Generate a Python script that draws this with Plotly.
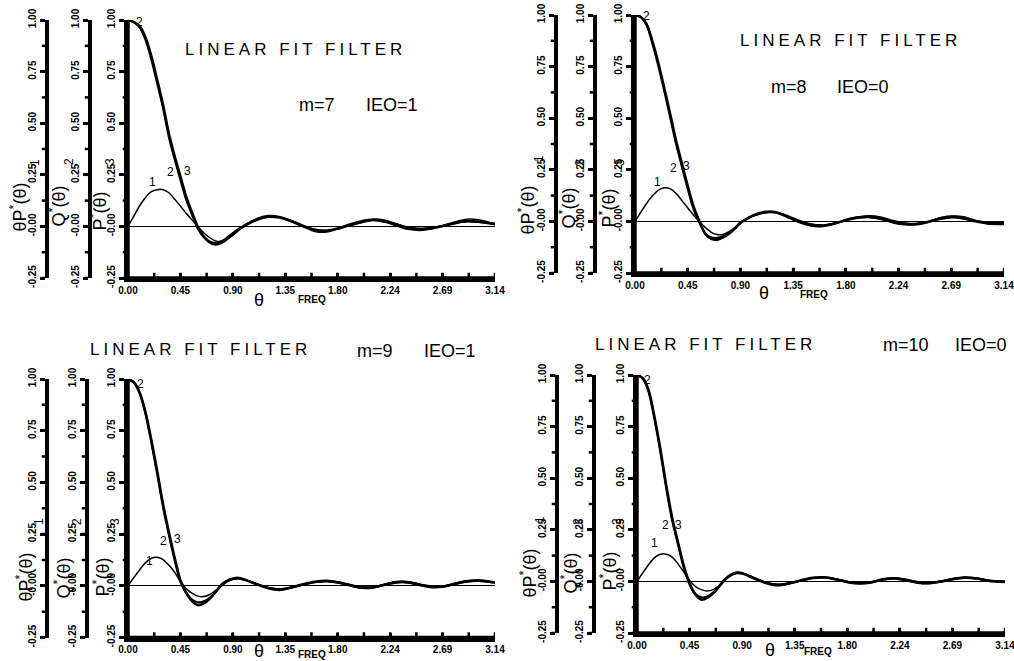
import plotly.graph_objects as go

W, H = 1014, 661

# ---------------- data ----------------
THETA = [0.0, 0.05, 0.1, 0.15, 0.2, 0.25, 0.3, 0.35, 0.4, 0.45, 0.5, 0.55, 0.6, 0.65,
         0.7, 0.75, 0.8, 0.85, 0.9, 0.95, 1.0, 1.1, 1.2, 1.3, 1.4, 1.5, 1.6, 1.7, 1.8,
         1.9, 2.0, 2.1, 2.2, 2.3, 2.4, 2.5, 2.6, 2.7, 2.8, 2.9, 3.0, 3.1416]

# m=7, IEO=1
TP_M7 = [0, .05, .1, .14, .168, .178, .178, .163, .132, .098, .062, .03, -.002, -.032, -.055,
         -.07, -.072, -.062, -.042, -.018, .002, .03, .047, .045, .028, .005, -.015, -.02,
         -.012, .005, .02, .035, .03, .012, -.005, -.01, -.005, .005, .022, .035, .032, .012]
Q_M7 = [1.0, .99, .965, .905, .81, .695, .575, .435, .325, .225, .128, .055, -.012, -.052,
        -.074, -.08, -.072, -.054, -.032, -.012, .004, .032, .046, .042, .024, .002, -.016,
        -.02, -.01, .006, .02, .03, .024, .01, -.006, -.012, -.008, .002, .015, .024, .022, .012]
P_M7 = [1.0, .99, .97, .915, .825, .71, .59, .45, .34, .24, .14, .065, -.005, -.05, -.078,
        -.088, -.08, -.06, -.035, -.013, .005, .035, .05, .045, .025, .0, -.022, -.025, -.01,
        .01, .025, .032, .022, .005, -.012, -.017, -.01, .003, .018, .026, .022, .01]

# m=8, IEO=0
TP_M8 = [0, .045, .088, .125, .152, .163, .158, .135, .1, .065, .03, -.002, -.03, -.053, -.064,
         -.063, -.05, -.03, -.008, .01, .025, .042, .044, .028, .005, -.012, -.017, -.01, .006,
         .02, .027, .02, .004, -.008, -.01, .0, .018, .026, .022, .005, -.005, -.003]
Q_M8 = [1.0, .99, .95, .86, .752, .632, .505, .377, .265, .157, .058, -.008, -.06, -.078, -.08,
        -.072, -.055, -.032, -.005, .012, .026, .043, .043, .022, -.002, -.017, -.02, -.01,
        .006, .017, .02, .012, -.003, -.012, -.012, -.002, .012, .02, .014, .002, -.008, -.01]
P_M8 = [1.0, .99, .955, .87, .765, .645, .52, .39, .28, .17, .07, .0, -.062, -.085, -.089,
        -.078, -.06, -.035, -.005, .012, .028, .046, .045, .022, -.003, -.02, -.022, -.01, .008,
        .02, .022, .012, -.005, -.014, -.014, -.002, .015, .022, .015, .0, -.01, -.012]

# m=9, IEO=1
TP_M9 = [0, .04, .078, .112, .133, .138, .127, .1, .065, .02, -.015, -.037, -.05, -.052, -.042,
         -.022, .0, .02, .032, .036, .03, .01, -.008, -.015, -.008, .006, .018, .022, .018, .006,
         -.004, -.004, .008, .02, .02, .008, -.002, .0, .012, .024, .028, .018]
Q_M9 = [1.0, .983, .93, .832, .694, .543, .383, .248, .124, .018, -.035, -.068, -.08, -.075,
        -.058, -.03, .002, .022, .033, .035, .028, .008, -.01, -.017, -.008, .006, .018, .022,
        .015, .003, -.008, -.007, .005, .016, .016, .005, -.005, -.003, .009, .02, .024, .015]
P_M9 = [1.0, .985, .935, .84, .705, .555, .395, .26, .135, .025, -.035, -.075, -.094, -.085,
        -.063, -.03, .005, .025, .036, .038, .03, .008, -.012, -.02, -.008, .008, .02, .024, .016,
        .002, -.01, -.008, .006, .018, .017, .004, -.007, -.004, .01, .022, .026, .016]

# m=10, IEO=0
TP_M10 = [0, .042, .082, .115, .132, .132, .118, .085, .045, .005, -.025, -.04, -.046, -.04,
          -.02, .008, .03, .04, .04, .03, .018, -.004, -.014, -.008, .006, .018, .02, .012, .0,
          -.006, -.002, .01, .016, .01, -.002, -.005, .003, .014, .02, .016, .006, .002]
Q_M10 = [1.0, .983, .918, .785, .628, .452, .298, .18, .066, -.015, -.062, -.078, -.074, -.055,
         -.025, .006, .028, .04, .038, .027, .015, -.006, -.016, -.009, .004, .016, .018, .01,
         -.003, -.008, -.004, .009, .014, .006, -.006, -.008, .0, .011, .017, .013, .003, -.002]
P_M10 = [1.0, .985, .925, .795, .64, .465, .31, .19, .075, -.01, -.065, -.089, -.08, -.058,
         -.025, .01, .032, .043, .04, .028, .015, -.008, -.019, -.01, .005, .018, .02, .01,
         -.004, -.01, -.005, .01, .015, .006, -.007, -.009, .0, .012, .019, .014, .003, -.003]

M_LABELS = ["m=7", "m=8", "m=9", "m=10"]
IEO_LABELS = ["IEO=1", "IEO=0", "IEO=1", "IEO=0"]
TITLE = "LINEAR FIT FILTER"

X_TICK_VALS = [0.0, 0.4488, 0.8976, 1.3464, 1.7952, 2.2440, 2.6928, 3.1416]
X_TICK_TEXT = ["<b>0.00</b>", "<b>0.45</b>", "<b>0.90</b>", "<b>1.35</b>", "<b>1.80</b>",
               "<b>2.24</b>", "<b>2.69</b>", "<b>3.14</b>"]
X_MINOR_VALS = [0.2244, 0.6732, 1.1220, 1.5708, 2.0196, 2.4684, 2.9172]
Y_TICK_VALS = [-0.25, 0.0, 0.25, 0.5, 0.75, 1.0]
Y_TICK_TEXT = ["<b>-0.25</b>", "<b>-0.00</b>", "<b>0.25</b>", "<b>0.50</b>", "<b>0.75</b>",
               "<b>1.00</b>"]
Y_MINOR_VALS = [-0.125, 0.125, 0.375, 0.625, 0.875]

SERIES = [(TP_M7, Q_M7, P_M7), (TP_M8, Q_M8, P_M8), (TP_M9, Q_M9, P_M9), (TP_M10, Q_M10, P_M10)]

# ---------------- layout geometry (pixels) ----------------
GEOM = [
    dict(x0=128, x1=495, yt=20, yb=278, extra=[47, 90],
         title=(295, 49), m=(317, 105), ieo=(392, 105),
         lab=[(33, 207), (72, 206), (112, 211)], sub=[(35, 163), (69, 162), (110, 162)],
         num=[(139, 22), (152, 182), (170, 172), (187, 171)], th=(259, 300), fr=(312, 299)),
    dict(x0=635, x1=1004, yt=15, yb=273, extra=[556, 595],
         title=(850, 40), m=(789, 87), ieo=(863, 87),
         lab=[(540, 210), (582, 208), (622, 208)], sub=[(539, 159), (580, 163), (620, 163)],
         num=[(646, 16), (657, 182), (673, 168), (686, 166)], th=(764, 293), fr=(814, 294)),
    dict(x0=128, x1=495, yt=379, yb=637.5, extra=[47, 87],
         title=(200, 349), m=(375, 351), ieo=(450, 351),
         lab=[(38, 577), (76, 578), (115, 577)], sub=[(39, 522), (77, 522), (115, 522)],
         num=[(140, 384), (149, 561), (163, 541), (177, 539)], th=(259, 651), fr=(312, 654)),
    dict(x0=637, x1=1005, yt=375, yb=633, extra=[557, 594],
         title=(705, 344), m=(906, 345), ieo=(981, 345),
         lab=[(542, 573), (583, 573), (622, 571)], sub=[(540, 520), (578, 522), (617, 522)],
         num=[(647, 380), (654, 543), (665, 525), (678, 525)], th=(770, 650), fr=(818, 651)),
]

FONT = "Liberation Sans"
TICKFONT = dict(family=FONT, size=10, color="black")
HALF = 7  # half width (px) of the thin strips that carry the axis rules
RULE_W = 3.5
TICK_W = 2.5


def fx(px):
    return px / W


def fy(py):
    return 1 - py / H


fig = go.Figure()
layout = dict(width=W, height=H, margin=dict(l=0, r=0, t=0, b=0), autosize=False,
              paper_bgcolor="white", plot_bgcolor="rgba(0,0,0,0)", showlegend=False,
              font=dict(family=FONT, color="black"))
annotations = []

ALL_Y_TICKS = sorted(Y_TICK_VALS + Y_MINOR_VALS)
ALL_X_TICKS = sorted(X_TICK_VALS + X_MINOR_VALS)

ylabel_axis = dict(range=[-0.25, 1.0], tickmode="array", tickvals=Y_TICK_VALS,
                   ticktext=Y_TICK_TEXT, tickangle=-90, ticks="outside", ticklen=5,
                   tickwidth=TICK_W, tickcolor="black", showline=True, linewidth=RULE_W,
                   linecolor="black", showgrid=False, tickfont=TICKFONT, automargin=False,
                   ticklabeloverflow="allow")


def add_line_traces(xs_, ys_, xid, yid, width):
    fig.add_trace(go.Scatter(x=xs_, y=ys_, mode="lines", xaxis=xid, yaxis=yid,
                             line=dict(color="black", width=width), hoverinfo="skip",
                             connectgaps=False, cliponaxis=False))


n = 5
for k, (g, (tp, q, p)) in enumerate(zip(GEOM, SERIES), start=1):
    xs = "x" if k == 1 else f"x{k}"
    ys = "y" if k == 1 else f"y{k}"
    xa = "xaxis" if k == 1 else f"xaxis{k}"
    ya = "yaxis" if k == 1 else f"yaxis{k}"
    ydom = [fy(g["yb"]), fy(g["yt"])]

    for vals, width in ((tp, 1.5), (q, 2.3), (p, 2.5)):
        fig.add_trace(go.Scatter(x=THETA, y=vals, mode="lines", xaxis=xs, yaxis=ys,
                                 line=dict(color="black", width=width, shape="spline",
                                           smoothing=0.8),
                                 hoverinfo="skip"))

    layout[xa] = dict(domain=[fx(g["x0"]), fx(g["x1"])], anchor=ys, range=[0, 3.1416],
                      tickmode="array", tickvals=X_TICK_VALS, ticktext=X_TICK_TEXT,
                      ticks="inside", ticklen=5, tickwidth=TICK_W, tickcolor="black",
                      showline=True, linewidth=RULE_W, linecolor="black",
                      showgrid=False, zeroline=False,
                      tickfont=TICKFONT, automargin=False, ticklabeloverflow="allow")
    layout[ya] = dict(domain=ydom, anchor=xs, zeroline=True, zerolinecolor="black",
                      zerolinewidth=1, **ylabel_axis)

    # ---- vertical value axes: main one at x0 and two extra ones to its left ----
    for j, px in enumerate([g["x0"]] + g["extra"]):
        layout[f"xaxis{n}"] = dict(domain=[fx(px - HALF), fx(px + HALF)], anchor=f"y{n}",
                                   range=[-1, 1], visible=False)
        if j == 0:
            layout[f"yaxis{n}"] = dict(domain=ydom, anchor=f"x{n}", range=[-0.25, 1.0],
                                       visible=False)
        else:
            layout[f"yaxis{n}"] = dict(domain=ydom, anchor="free", position=fx(px),
                                       side="left", zeroline=False, **ylabel_axis)
        # axis rule
        add_line_traces([0, 0], [-0.25, 1.0], f"x{n}", f"y{n}", RULE_W)
        # tick marks pointing left
        tx, ty = [], []
        for v in ALL_Y_TICKS:
            tx += [-0.75, 0, None]
            ty += [v, v, None]
        add_line_traces(tx, ty, f"x{n}", f"y{n}", TICK_W)
        n += 1

    # ---- horizontal frequency axis along the bottom ----
    layout[f"xaxis{n}"] = dict(domain=[fx(g["x0"]), fx(g["x1"])], anchor=f"y{n}",
                               range=[0, 3.1416], visible=False)
    layout[f"yaxis{n}"] = dict(domain=[fy(g["yb"] + HALF), fy(g["yb"] - HALF)],
                               anchor=f"x{n}", range=[-1, 1], visible=False)
    add_line_traces([0, 3.1416], [0, 0], f"x{n}", f"y{n}", RULE_W)
    tx, ty = [], []
    for v in ALL_X_TICKS:
        tx += [v, v, None]
        ty += [0, 0.75, None]
    add_line_traces(tx, ty, f"x{n}", f"y{n}", TICK_W)
    n += 1

    def ann(text, pos, size, angle=0, xanchor="center", bold=False):
        annotations.append(dict(text=f"<b>{text}</b>" if bold else text,
                                x=fx(pos[0]), y=fy(pos[1]), xref="paper",
                                yref="paper", showarrow=False, xanchor=xanchor,
                                yanchor="middle", textangle=angle,
                                font=dict(family=FONT, size=size, color="black")))

    ann(f'<span style="letter-spacing:4px">{TITLE}</span>', g["title"], 17)
    ann(M_LABELS[k - 1], g["m"], 18)
    ann(IEO_LABELS[k - 1], g["ieo"], 18)
    labels = ["θP<sup>*</sup>(θ)", "Q<sup>*</sup>(θ)", "P<sup>*</sup>(θ)"]
    for lt, pos in zip(labels, g["lab"]):
        ann(lt, pos, 18, angle=-90, xanchor="right")
    for st, pos in zip(["1", "2", "3"], g["sub"]):
        ann(st, pos, 12, angle=-90)
    for nt, pos in zip(["2", "1", "2", "3"], g["num"]):
        ann(nt, pos, 12)
    ann("θ", g["th"], 18)
    ann("FREQ", g["fr"], 10, bold=True)

layout["annotations"] = annotations
fig.update_layout(**layout)
fig.write_html("out.html")
